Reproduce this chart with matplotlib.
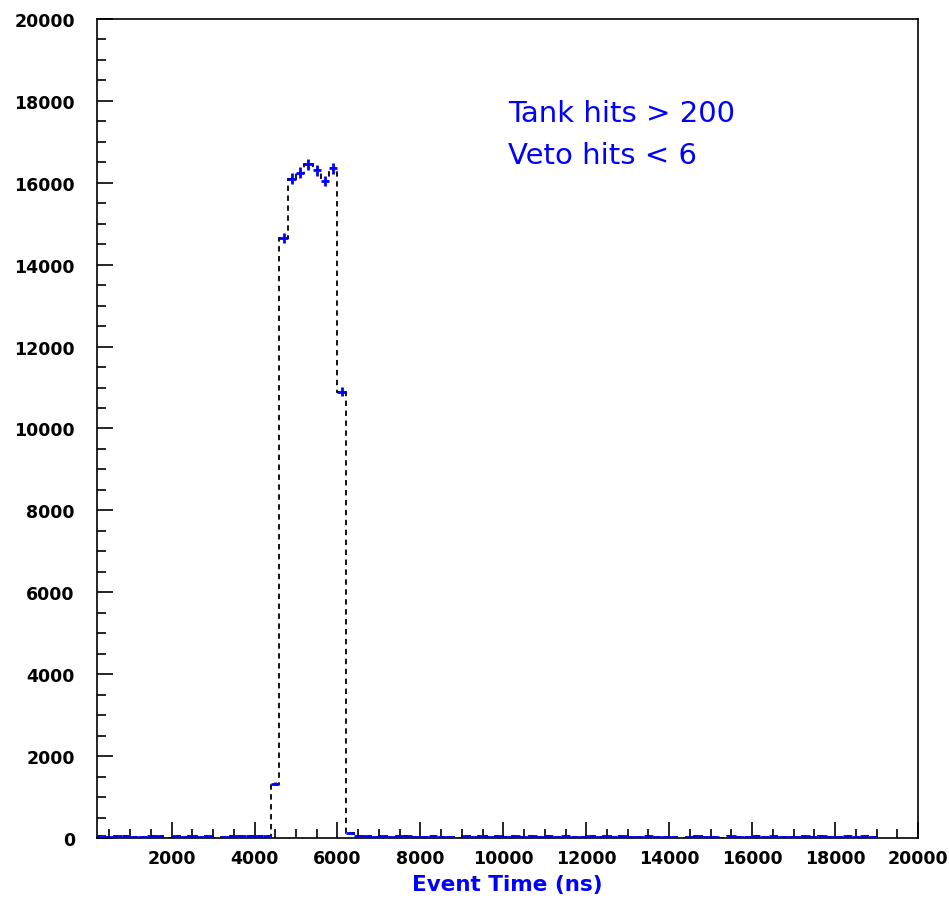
import numpy as np
import matplotlib
matplotlib.use('Agg')
import matplotlib.pyplot as plt
from matplotlib.ticker import MultipleLocator

# histogram of event times, 200 ns bins from 200 to 19000 ns
bin_edges = np.arange(200, 19001, 200)
counts = np.array([
    40, 35, 38, 42, 36, 33, 39, 37, 0, 41, 34, 38, 36, 40, 0, 35, 39, 37, 42, 44, 48,
    1330, 14650, 16100, 16250, 16450, 16300, 16050, 16350, 10900, 115,
    45, 38, 36, 40, 35, 37, 39, 34, 36, 38, 33, 35, 0, 37, 36, 39, 34, 38,
    35, 37, 36, 40, 33, 38, 35, 37, 34, 36,
    39, 35, 37, 33, 38, 36, 34, 37, 35, 36,
    34, 0, 35, 38, 36, 34, 0, 37, 35, 36,
    38, 34, 37, 35, 36, 33, 38, 35, 37, 34,
    36, 38, 35, 37, 36,
], dtype=float)
centers = 0.5 * (bin_edges[:-1] + bin_edges[1:])

cut_lines = ['Tank hits > 200', 'Veto hits < 6']

fig = plt.figure(figsize=(9.49, 9.04), dpi=100)
ax = fig.add_axes([0.1022, 0.0719, 0.8651, 0.906])

# dashed histogram outline
ax.stairs(counts, bin_edges, color='black', linestyle=(0, (3, 2.5)), lw=1.3, zorder=2)

# blue error crosses for filled bins (drawn on top)
filled = counts > 0
ax.errorbar(centers[filled], counts[filled], xerr=100, yerr=np.sqrt(counts[filled]),
            fmt='none', ecolor='blue', elinewidth=2.0, capsize=0, zorder=3)

ax.set_xlim(200, 20000)
ax.set_ylim(0, 20000)
ax.xaxis.set_major_locator(MultipleLocator(2000))
ax.xaxis.set_minor_locator(MultipleLocator(500))
ax.yaxis.set_major_locator(MultipleLocator(2000))
ax.yaxis.set_minor_locator(MultipleLocator(500))

ax.tick_params(which='major', direction='in', length=11.5, width=1.2)
ax.tick_params(which='minor', direction='in', length=6.5, width=1.2)
ax.tick_params(axis='x', which='major', pad=8)
ax.tick_params(axis='y', which='major', pad=16)
for sp in ax.spines.values():
    sp.set_linewidth(1.2)

for lab in ax.get_xticklabels() + ax.get_yticklabels():
    lab.set_fontfamily('DejaVu Sans')
    lab.set_fontweight('bold')
    lab.set_fontsize(12.5)

ax.set_xlabel('Event Time (ns)', color='blue', fontsize=15.5, fontweight='bold', labelpad=5)

# cut description
ax.text(10120, 17500, cut_lines[0], color='blue', fontsize=21, family='DejaVu Sans', va='baseline')
ax.text(10120, 16490, cut_lines[1], color='blue', fontsize=21, family='DejaVu Sans', va='baseline')

fig.savefig('out.png', dpi=100, facecolor='white')
